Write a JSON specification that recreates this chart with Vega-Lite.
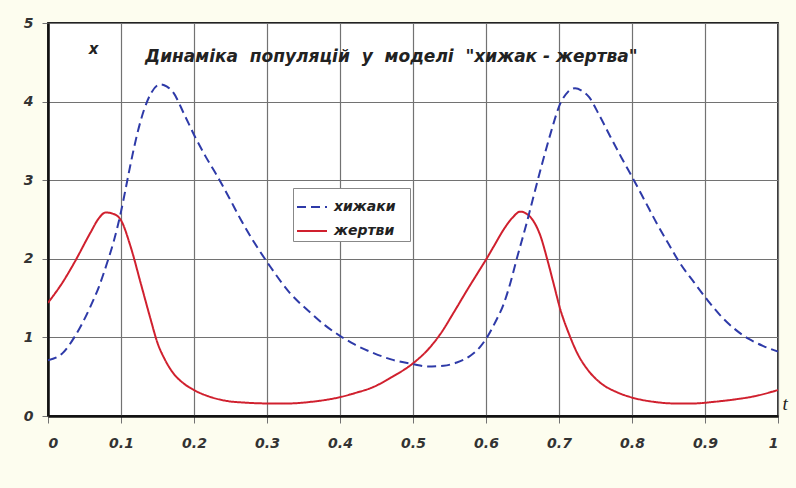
{
  "$schema": "https://vega.github.io/schema/vega-lite/v6.json",
  "width": 730,
  "height": 393,
  "autosize": "none",
  "padding": {"left": 48, "top": 23, "right": 18, "bottom": 72},
  "background": "#fdfdef",
  "title": {
    "text": "Динаміка\u00a0 популяцій\u00a0 у\u00a0 моделі\u00a0 \"хижак - жертва\"",
    "anchor": "start",
    "frame": "group",
    "dx": 97,
    "dy": 54,
    "font": "DejaVu Sans",
    "fontSize": 17,
    "fontWeight": "bold",
    "fontStyle": "italic",
    "color": "#222222"
  },
  "config": {
    "view": {"fill": "#ffffff", "stroke": "#222222", "strokeWidth": 1.8},
    "axis": {
      "labelFont": "DejaVu Sans",
      "labelFontSize": 14,
      "labelFontWeight": "bold",
      "labelFontStyle": "italic",
      "labelColor": "#333333",
      "gridColor": "#727272",
      "gridOpacity": 1,
      "gridWidth": 1.2,
      "tickColor": "#727272",
      "domainColor": "#111111",
      "domainWidth": 2.5
    }
  },
  "datasets": {
    "series": [
      {"t": 0, "v": 1.44, "s": "жертви"},
      {"t": 0.02, "v": 1.7, "s": "жертви"},
      {"t": 0.036, "v": 1.95, "s": "жертви"},
      {"t": 0.058, "v": 2.33, "s": "жертви"},
      {"t": 0.07, "v": 2.52, "s": "жертви"},
      {"t": 0.079, "v": 2.59, "s": "жертви"},
      {"t": 0.09, "v": 2.57, "s": "жертви"},
      {"t": 0.1, "v": 2.49, "s": "жертви"},
      {"t": 0.113, "v": 2.16, "s": "жертви"},
      {"t": 0.127, "v": 1.69, "s": "жертви"},
      {"t": 0.14, "v": 1.25, "s": "жертви"},
      {"t": 0.15, "v": 0.93, "s": "жертви"},
      {"t": 0.16, "v": 0.72, "s": "жертви"},
      {"t": 0.172, "v": 0.54, "s": "жертви"},
      {"t": 0.185, "v": 0.42, "s": "жертви"},
      {"t": 0.2, "v": 0.33, "s": "жертви"},
      {"t": 0.22, "v": 0.25, "s": "жертви"},
      {"t": 0.246, "v": 0.19, "s": "жертви"},
      {"t": 0.27, "v": 0.17, "s": "жертви"},
      {"t": 0.3, "v": 0.16, "s": "жертви"},
      {"t": 0.33, "v": 0.16, "s": "жертви"},
      {"t": 0.36, "v": 0.18, "s": "жертви"},
      {"t": 0.4, "v": 0.24, "s": "жертви"},
      {"t": 0.42, "v": 0.29, "s": "жертви"},
      {"t": 0.446, "v": 0.37, "s": "жертви"},
      {"t": 0.47, "v": 0.49, "s": "жертви"},
      {"t": 0.5, "v": 0.67, "s": "жертви"},
      {"t": 0.52, "v": 0.84, "s": "жертви"},
      {"t": 0.538, "v": 1.05, "s": "жертви"},
      {"t": 0.556, "v": 1.32, "s": "жертви"},
      {"t": 0.574, "v": 1.6, "s": "жертви"},
      {"t": 0.59, "v": 1.84, "s": "жертви"},
      {"t": 0.602, "v": 2.02, "s": "жертви"},
      {"t": 0.612, "v": 2.18, "s": "жертви"},
      {"t": 0.624, "v": 2.37, "s": "жертви"},
      {"t": 0.636, "v": 2.52, "s": "жертви"},
      {"t": 0.647, "v": 2.6, "s": "жертви"},
      {"t": 0.656, "v": 2.57, "s": "жертви"},
      {"t": 0.665, "v": 2.48, "s": "жертви"},
      {"t": 0.675, "v": 2.28, "s": "жертви"},
      {"t": 0.684, "v": 1.99, "s": "жертви"},
      {"t": 0.693, "v": 1.67, "s": "жертви"},
      {"t": 0.702, "v": 1.35, "s": "жертви"},
      {"t": 0.713, "v": 1.06, "s": "жертви"},
      {"t": 0.725, "v": 0.8, "s": "жертви"},
      {"t": 0.74, "v": 0.58, "s": "жертви"},
      {"t": 0.757, "v": 0.42, "s": "жертви"},
      {"t": 0.78, "v": 0.3, "s": "жертви"},
      {"t": 0.802, "v": 0.23, "s": "жертви"},
      {"t": 0.83, "v": 0.18, "s": "жертви"},
      {"t": 0.857, "v": 0.16, "s": "жертви"},
      {"t": 0.885, "v": 0.16, "s": "жертви"},
      {"t": 0.912, "v": 0.18, "s": "жертви"},
      {"t": 0.94, "v": 0.21, "s": "жертви"},
      {"t": 0.967, "v": 0.25, "s": "жертви"},
      {"t": 1.0, "v": 0.33, "s": "жертви"},
      {"t": 0, "v": 0.71, "s": "хижаки"},
      {"t": 0.02, "v": 0.8, "s": "хижаки"},
      {"t": 0.036, "v": 1.0, "s": "хижаки"},
      {"t": 0.058, "v": 1.39, "s": "хижаки"},
      {"t": 0.07, "v": 1.65, "s": "хижаки"},
      {"t": 0.081, "v": 1.95, "s": "хижаки"},
      {"t": 0.09, "v": 2.22, "s": "хижаки"},
      {"t": 0.1, "v": 2.6, "s": "хижаки"},
      {"t": 0.107, "v": 2.92, "s": "хижаки"},
      {"t": 0.113, "v": 3.2, "s": "хижаки"},
      {"t": 0.122, "v": 3.58, "s": "хижаки"},
      {"t": 0.131, "v": 3.88, "s": "хижаки"},
      {"t": 0.142, "v": 4.12, "s": "хижаки"},
      {"t": 0.154, "v": 4.22, "s": "хижаки"},
      {"t": 0.163, "v": 4.19, "s": "хижаки"},
      {"t": 0.172, "v": 4.11, "s": "хижаки"},
      {"t": 0.186, "v": 3.85, "s": "хижаки"},
      {"t": 0.201, "v": 3.56, "s": "хижаки"},
      {"t": 0.216, "v": 3.3, "s": "хижаки"},
      {"t": 0.232, "v": 3.05, "s": "хижаки"},
      {"t": 0.248, "v": 2.78, "s": "хижаки"},
      {"t": 0.264, "v": 2.5, "s": "хижаки"},
      {"t": 0.283, "v": 2.2, "s": "хижаки"},
      {"t": 0.303, "v": 1.92, "s": "хижаки"},
      {"t": 0.33, "v": 1.58, "s": "хижаки"},
      {"t": 0.36, "v": 1.31, "s": "хижаки"},
      {"t": 0.38, "v": 1.15, "s": "хижаки"},
      {"t": 0.4, "v": 1.02, "s": "хижаки"},
      {"t": 0.42, "v": 0.91, "s": "хижаки"},
      {"t": 0.446, "v": 0.8, "s": "хижаки"},
      {"t": 0.47, "v": 0.72, "s": "хижаки"},
      {"t": 0.5, "v": 0.66, "s": "хижаки"},
      {"t": 0.52, "v": 0.63, "s": "хижаки"},
      {"t": 0.542, "v": 0.64, "s": "хижаки"},
      {"t": 0.56, "v": 0.68, "s": "хижаки"},
      {"t": 0.579, "v": 0.77, "s": "хижаки"},
      {"t": 0.592, "v": 0.88, "s": "хижаки"},
      {"t": 0.602, "v": 1.01, "s": "хижаки"},
      {"t": 0.613, "v": 1.2, "s": "хижаки"},
      {"t": 0.624, "v": 1.42, "s": "хижаки"},
      {"t": 0.633, "v": 1.68, "s": "хижаки"},
      {"t": 0.643, "v": 2.03, "s": "хижаки"},
      {"t": 0.655, "v": 2.43, "s": "хижаки"},
      {"t": 0.665, "v": 2.79, "s": "хижаки"},
      {"t": 0.676, "v": 3.18, "s": "хижаки"},
      {"t": 0.688, "v": 3.58, "s": "хижаки"},
      {"t": 0.702, "v": 3.98, "s": "хижаки"},
      {"t": 0.712, "v": 4.12, "s": "хижаки"},
      {"t": 0.722, "v": 4.17, "s": "хижаки"},
      {"t": 0.731, "v": 4.14, "s": "хижаки"},
      {"t": 0.741, "v": 4.06, "s": "хижаки"},
      {"t": 0.755, "v": 3.83, "s": "хижаки"},
      {"t": 0.77, "v": 3.56, "s": "хижаки"},
      {"t": 0.786, "v": 3.28, "s": "хижаки"},
      {"t": 0.802, "v": 3.01, "s": "хижаки"},
      {"t": 0.818, "v": 2.73, "s": "хижаки"},
      {"t": 0.834, "v": 2.45, "s": "хижаки"},
      {"t": 0.85, "v": 2.19, "s": "хижаки"},
      {"t": 0.866, "v": 1.94, "s": "хижаки"},
      {"t": 0.885, "v": 1.7, "s": "хижаки"},
      {"t": 0.903, "v": 1.48, "s": "хижаки"},
      {"t": 0.92, "v": 1.29, "s": "хижаки"},
      {"t": 0.939, "v": 1.12, "s": "хижаки"},
      {"t": 0.96, "v": 0.98, "s": "хижаки"},
      {"t": 0.98, "v": 0.89, "s": "хижаки"},
      {"t": 1.0, "v": 0.82, "s": "хижаки"}
    ]
  },
  "data": {"name": "series"},
  "mark": {"type": "line", "interpolate": "monotone", "strokeWidth": 2, "clip": true},
  "encoding": {
    "x": {
      "field": "t",
      "type": "quantitative",
      "scale": {"domain": [0, 1], "nice": false, "zero": false},
      "axis": {
        "values": [0, 0.1, 0.2, 0.3, 0.4, 0.5, 0.6, 0.7, 0.8, 0.9, 1],
        "format": "~g",
        "tickSize": 7,
        "labelPadding": 13,
        "title": "t",
        "titleFont": "Liberation Serif",
        "titleFontSize": 19,
        "titleFontStyle": "italic",
        "titleFontWeight": "normal",
        "titleColor": "#222222",
        "titleAnchor": "start",
        "titleAlign": "left",
        "titleBaseline": "middle",
        "titleX": 734,
        "titleY": -13
      }
    },
    "y": {
      "field": "v",
      "type": "quantitative",
      "scale": {"domain": [0, 5], "nice": false},
      "axis": {
        "values": [0, 1, 2, 3, 4, 5],
        "tickSize": 6,
        "labelPadding": 9,
        "title": "x",
        "titleFont": "DejaVu Sans",
        "titleFontSize": 15,
        "titleFontStyle": "italic",
        "titleFontWeight": "bold",
        "titleColor": "#222222",
        "titleAngle": 0,
        "titleAlign": "center",
        "titleBaseline": "middle",
        "titleX": 45,
        "titleY": 25
      }
    },
    "color": {
      "field": "s",
      "type": "nominal",
      "scale": {"domain": ["хижаки", "жертви"], "range": ["#2e3aa8", "#d0202e"]},
      "legend": {
        "title": null,
        "orient": "none",
        "legendX": 245,
        "legendY": 165,
        "fillColor": "#ffffff",
        "strokeColor": "#888888",
        "padding": 3,
        "rowPadding": 1,
        "symbolType": "stroke",
        "symbolSize": 900,
        "symbolStrokeWidth": 2,
        "labelOffset": 6,
        "labelExpr": "datum.label + '\u2800'",
        "labelFont": "DejaVu Sans",
        "labelFontSize": 14,
        "labelFontWeight": "bold",
        "labelFontStyle": "italic",
        "labelColor": "#222222"
      }
    },
    "strokeDash": {
      "field": "s",
      "type": "nominal",
      "scale": {"domain": ["хижаки", "жертви"], "range": [[9, 5], [1, 0]]},
      "legend": null
    }
  }
}
